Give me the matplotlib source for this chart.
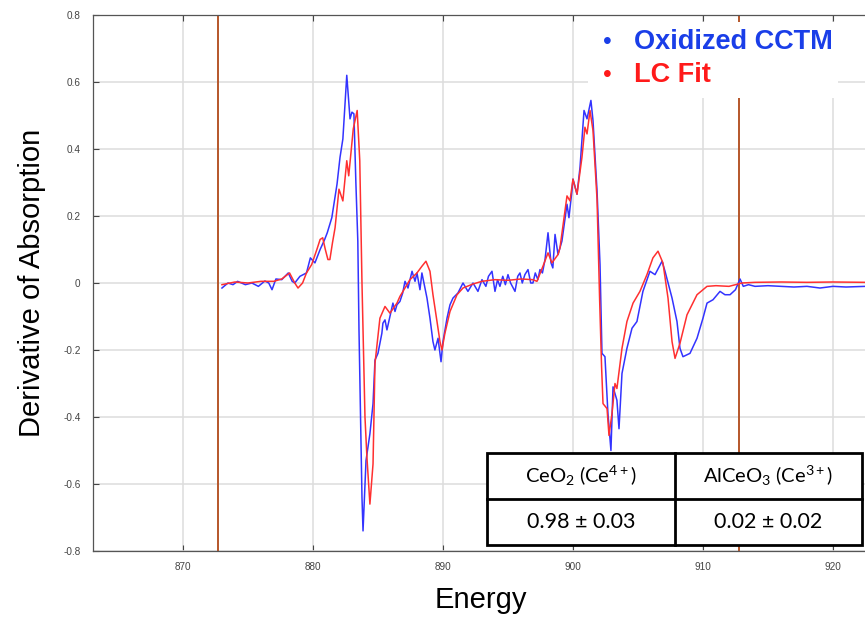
import matplotlib
matplotlib.use("Agg")
import matplotlib.pyplot as plt
from matplotlib.patches import Rectangle

# blue: measured (oxidized CCTM), red: linear-combination fit
energy_meas = [873.0, 873.46, 873.85, 874.2, 874.5, 874.8, 875.3, 875.8, 876.3, 876.6, 876.85, 877.15,
               877.6, 878.1, 878.4, 878.6, 879.0, 879.5, 879.8, 880.15, 880.55, 880.9, 881.1, 881.45,
               881.85, 882.08, 882.3, 882.6, 882.85, 883.0, 883.15, 883.3, 883.45, 883.54, 883.77,
               883.85, 884.08, 884.38, 884.62, 884.77, 885.0, 885.3, 885.38, 885.54, 885.69, 885.92,
               886.15, 886.31, 886.46, 886.69, 886.9, 887.08, 887.31, 887.62, 887.85, 888.0, 888.23,
               888.38, 888.77, 889.0, 889.23, 889.38, 889.62, 889.85, 890.0, 890.31, 890.54, 890.77,
               891.15, 891.54, 891.92, 892.31, 892.69, 893.0, 893.3, 893.5, 893.77, 894.0, 894.2,
               894.38, 894.6, 894.8, 895.0, 895.2, 895.54, 895.75, 895.92, 896.1, 896.3, 896.54,
               896.75, 896.92, 897.1, 897.3, 897.46, 897.65, 897.85, 898.08, 898.31, 898.45, 898.62,
               898.85, 899.15, 899.54, 899.69, 899.92, 900.0, 900.31, 900.54, 900.85, 901.08, 901.38,
               901.54, 901.85, 902.08, 902.23, 902.46, 902.69, 902.92, 903.08, 903.38, 903.54, 903.77,
               904.15, 904.54, 904.92, 905.38, 905.92, 906.31, 906.85, 907.08, 907.62, 908.0, 908.23,
               908.46, 909.0, 909.54, 910.0, 910.31, 910.77, 911.31, 911.69, 912.08, 912.5, 912.85,
               913.1, 913.5, 914.0, 915.0, 916.0, 917.0, 918.0, 919.0, 920.0, 921.0, 922.5]
deriv_meas = [-0.015, 0.0, -0.005, 0.005, 0.0, -0.005, 0.0, -0.01, 0.006, 0.0, -0.02, 0.012,
              0.01, 0.03, 0.005, 0.0, 0.02, 0.03, 0.075, 0.06, 0.1, 0.13, 0.15, 0.195,
              0.295, 0.375, 0.43, 0.62, 0.49, 0.51, 0.505, 0.3, 0.125, -0.14, -0.64,
              -0.74, -0.53, -0.45, -0.36, -0.23, -0.21, -0.15, -0.12, -0.11, -0.14, -0.1,
              -0.06, -0.085, -0.065, -0.055, -0.03, 0.005, -0.015, 0.035, 0.005, 0.03, -0.02,
              0.03, -0.045, -0.105, -0.175, -0.2, -0.165, -0.235, -0.175, -0.105, -0.065, -0.045,
              -0.03, 0.0, -0.025, 0.0, -0.025, 0.01, -0.01, 0.02, 0.035, -0.025, 0.01,
              -0.01, 0.02, -0.005, 0.025, 0.0, -0.025, 0.02, 0.03, 0.0, 0.025, 0.04,
              0.0, 0.0, 0.03, 0.01, 0.04, 0.03, 0.07, 0.15, 0.06, 0.045, 0.145,
              0.085, 0.125, 0.235, 0.195, 0.275, 0.31, 0.265, 0.345, 0.515, 0.49, 0.545,
              0.485, 0.275, 0.055, -0.21, -0.22, -0.39, -0.5, -0.31, -0.35, -0.435, -0.27,
              -0.195, -0.135, -0.115, -0.025, 0.035, 0.025, 0.065, 0.035, -0.045, -0.115, -0.195,
              -0.22, -0.21, -0.165, -0.105, -0.06, -0.05, -0.025, -0.035, -0.035, -0.02, 0.012,
              -0.01, -0.005, -0.01, -0.008, -0.01, -0.012, -0.01, -0.015, -0.01, -0.012, -0.01]

energy_fit = [873.0, 874.0, 875.0, 876.0, 877.0, 877.6, 878.2, 878.6, 878.85, 879.2, 879.5, 879.9,
              880.3, 880.55, 880.75, 880.95, 881.15, 881.3, 881.5, 881.7, 882.0, 882.3, 882.6,
              882.75, 883.1, 883.4, 883.6, 883.77, 884.0, 884.15, 884.38, 884.62, 884.77, 885.15,
              885.54, 885.92, 886.46, 886.69, 887.46, 888.0, 888.38, 888.69, 889.0, 889.23, 889.54,
              889.77, 889.92, 890.15, 890.54, 891.08, 891.54, 892.31, 893.0, 894.0, 895.0, 896.0,
              896.9, 897.23, 897.69, 898.08, 898.38, 898.85, 899.0, 899.54, 899.77, 900.0, 900.31,
              900.69, 900.92, 901.08, 901.31, 901.54, 901.85, 902.05, 902.2, 902.31, 902.62, 902.77,
              903.0, 903.23, 903.38, 903.77, 904.15, 904.62, 905.15, 905.69, 906.15, 906.54, 906.92,
              907.31, 907.62, 907.85, 908.23, 908.77, 909.54, 910.31, 911.0, 912.0, 913.0, 914.0,
              916.0, 918.0, 920.0, 922.5]
deriv_fit = [-0.005, 0.003, 0.0, 0.005, 0.005, 0.012, 0.03, 0.0, -0.015, 0.0, 0.03, 0.055,
             0.1, 0.13, 0.135, 0.1, 0.07, 0.07, 0.12, 0.165, 0.28, 0.245, 0.365,
             0.32, 0.46, 0.515, 0.365, 0.0, -0.4, -0.52, -0.66, -0.54, -0.24, -0.105,
             -0.07, -0.09, -0.06, -0.04, 0.01, 0.03, 0.05, 0.065, 0.035, -0.035, -0.115,
             -0.175, -0.2, -0.15, -0.085, -0.035, -0.015, -0.003, 0.005, 0.01, 0.008, 0.012,
             0.01, 0.005, 0.05, 0.09, 0.06, 0.085, 0.105, 0.26, 0.245, 0.31, 0.265,
             0.375, 0.465, 0.445, 0.515, 0.455, 0.25, -0.05, -0.25, -0.36, -0.375, -0.455,
             -0.39, -0.3, -0.315, -0.195, -0.115, -0.06, -0.025, 0.025, 0.075, 0.095, 0.06,
             -0.045, -0.175, -0.225, -0.18, -0.095, -0.035, -0.01, -0.008, -0.01, 0.0, 0.002,
             0.003, 0.002, 0.003, 0.002]

fit_range = [872.7, 912.8]
table_header = ["CeO$_2$ (Ce$^{4+}$)", "AlCeO$_3$ (Ce$^{3+}$)"]
table_values = ["0.98 ± 0.03", "0.02 ± 0.02"]

plt.rcParams["font.family"] = ["Liberation Sans", "DejaVu Sans"]
plt.rcParams["mathtext.fontset"] = "custom"
plt.rcParams["mathtext.rm"] = "Lato"
plt.rcParams["mathtext.it"] = "Lato"

W, H = 865, 621
fig = plt.figure(figsize=(W / 100, H / 100), dpi=100)
ax = fig.add_axes([93 / W, 70 / H, 776 / W, 536 / H])

ax.set_xlim(863.08, 922.77)
ax.set_ylim(-0.8, 0.8)
ax.set_xticks([870, 880, 890, 900, 910, 920])
ax.set_yticks([-0.8, -0.6, -0.4, -0.2, 0, 0.2, 0.4, 0.6, 0.8])
ax.set_yticklabels(["-0.8", "-0.6", "-0.4", "-0.2", "0", "0.2", "0.4", "0.6", "0.8"])
ax.grid(True, color="#dddddd", lw=1.1)
ax.set_axisbelow(True)
ax.tick_params(direction="in", length=4, width=0.8, colors="#444444", labelsize=7.2,
               top=True, labelcolor="#444444")
ax.tick_params(axis="x", pad=8)
ax.tick_params(axis="y", pad=9)
for s in ax.spines.values():
    s.set_color("#555555"); s.set_linewidth(0.9)

for xv in fit_range:
    ax.axvline(xv, color="#b5562a", lw=1.4, zorder=2)

ax.plot(energy_meas, deriv_meas, color="#3333ff", lw=1.1, zorder=3)
ax.plot(energy_fit, deriv_fit, color="#ff3030", lw=1.1, zorder=3)

ax.set_xlabel("Energy", fontsize=21, labelpad=10)
ax.set_ylabel("Derivative of Absorption", fontsize=21, labelpad=12)

# legend box (white patch with bulleted labels)
fig.patches.append(Rectangle((588 / W, 1 - 98 / H), 250 / W, 76 / H, transform=fig.transFigure,
                             facecolor="white", edgecolor="none", zorder=5))
fig.text(607 / W, 1 - 42 / H, "•", color="#1a3ee8", fontsize=18, ha="center", va="center", zorder=6)
fig.text(634 / W, 1 - 42 / H, "Oxidized CCTM", color="#1a3ee8", fontsize=19.5,
         fontweight="bold", va="center", zorder=6)
fig.text(607 / W, 1 - 75 / H, "•", color="#ff1a1a", fontsize=18, ha="center", va="center", zorder=6)
fig.text(634 / W, 1 - 75 / H, "LC Fit", color="#ff1a1a", fontsize=19.5,
         fontweight="bold", va="center", zorder=6)

# fractions table
tx0, tx1, tmid = 487, 862, 675
ty0, ty1, tymid = 453, 545, 499
fig.patches.append(Rectangle((tx0 / W, 1 - ty1 / H), (tx1 - tx0) / W, (ty1 - ty0) / H,
                             transform=fig.transFigure, facecolor="white",
                             edgecolor="black", lw=2.0, zorder=7))
fig.lines.append(plt.Line2D([tmid / W, tmid / W], [1 - ty0 / H, 1 - ty1 / H],
                            transform=fig.transFigure, color="black", lw=2.0, zorder=8))
fig.lines.append(plt.Line2D([tx0 / W, tx1 / W], [1 - tymid / H, 1 - tymid / H],
                            transform=fig.transFigure, color="black", lw=2.0, zorder=8))
centers = [(tx0 + tmid) / 2, (tmid + tx1) / 2]
for cx, head, val in zip(centers, table_header, table_values):
    fig.text(cx / W, 1 - 476 / H, head, fontsize=14.5, family="Lato", ha="center", va="center", zorder=9)
    fig.text(cx / W, 1 - 522 / H, val, fontsize=15.5, family="Lato", ha="center", va="center", zorder=9)

fig.savefig("out.png", dpi=100)
